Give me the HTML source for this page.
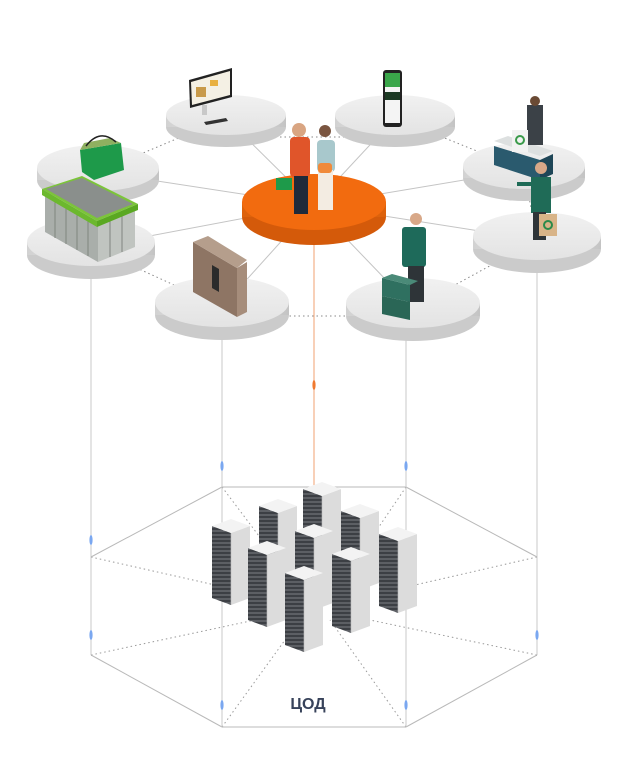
<!DOCTYPE html>
<html><head><meta charset="utf-8"><style>
html,body{margin:0;padding:0;background:#fff;width:630px;height:769px;overflow:hidden}
svg{display:block}
</style></head><body>
<svg width="630" height="769" viewBox="0 0 630 769" xmlns="http://www.w3.org/2000/svg">
<defs>
<linearGradient id="dtop" x1="0" y1="0" x2="0" y2="1"><stop offset="0" stop-color="#f1f1f1"/><stop offset="1" stop-color="#e3e3e3"/></linearGradient>
<linearGradient id="dside" x1="0" y1="0" x2="1" y2="0"><stop offset="0" stop-color="#d2d2d2"/><stop offset="0.5" stop-color="#e0e0e0"/><stop offset="1" stop-color="#c4c4c4"/></linearGradient>
<pattern id="rack" width="6" height="4" patternUnits="userSpaceOnUse"><rect width="6" height="4" fill="#3c3f44"/><rect y="2.6" width="6" height="0.8" fill="#8c8f95"/></pattern>
<g id="srv">
<polygon points="0,6 19,13 19,85 0,78" fill="url(#rack)"/>
<polygon points="19,13 38,6 38,78 19,85" fill="#dcdcdc"/>
<polygon points="0,6 19,-1 38,6 19,13" fill="#f3f3f3"/>
<line x1="19" y1="13" x2="19" y2="85" stroke="#bbb" stroke-width="0.6"/>
</g>
</defs>

<!-- bottom hexagon -->
<g stroke="#b9b9b9" stroke-width="1" fill="none">
<line x1="222" y1="487" x2="406" y2="487"/>
<line x1="222" y1="487" x2="91" y2="557"/>
<line x1="406" y1="487" x2="537" y2="557"/>
<line x1="91" y1="655" x2="222" y2="727"/>
<line x1="537" y1="655" x2="406" y2="727"/>
<line x1="222" y1="727" x2="406" y2="727" stroke="#ddd" stroke-width="2"/>
</g>
<g stroke="#999" stroke-width="1" stroke-dasharray="1.5,3" fill="none">
<line x1="222" y1="487" x2="262" y2="540"/>
<line x1="406" y1="487" x2="370" y2="540"/>
<line x1="91" y1="557" x2="215" y2="585"/>
<line x1="537" y1="557" x2="415" y2="585"/>
<line x1="91" y1="655" x2="255" y2="620"/>
<line x1="537" y1="655" x2="370" y2="620"/>
<line x1="222" y1="727" x2="285" y2="640"/>
<line x1="406" y1="727" x2="330" y2="620"/>
</g>

<!-- vertical lines -->
<g stroke="#c8c8c8" stroke-width="1">
<line x1="91" y1="275" x2="91" y2="655"/>
<line x1="222" y1="335" x2="222" y2="727"/>
<line x1="406" y1="335" x2="406" y2="727"/>
<line x1="537" y1="270" x2="537" y2="655"/>
</g>
<line x1="314" y1="232" x2="314" y2="530" stroke="#f0a070" stroke-width="1"/>
<g fill="#7aa7f0">
<ellipse cx="222" cy="466" rx="1.6" ry="5"/><ellipse cx="406" cy="466" rx="1.6" ry="5"/>
<ellipse cx="91" cy="540" rx="1.6" ry="5"/><ellipse cx="91" cy="635" rx="1.6" ry="5"/>
<ellipse cx="537" cy="635" rx="1.6" ry="5"/>
<ellipse cx="222" cy="705" rx="1.6" ry="5"/><ellipse cx="406" cy="705" rx="1.6" ry="5"/>
</g>
<ellipse cx="314" cy="385" rx="1.6" ry="5" fill="#f07a30"/>

<!-- servers -->
<use href="#srv" x="303" y="483"/>
<use href="#srv" x="259" y="500"/>
<use href="#srv" x="341" y="505"/>
<use href="#srv" x="212" y="520"/>
<use href="#srv" x="295" y="525"/>
<use href="#srv" x="379" y="528"/>
<use href="#srv" x="248" y="542"/>
<use href="#srv" x="332" y="548"/>
<use href="#srv" x="285" y="567"/>

<text x="308" y="709" text-anchor="middle" font-family="Liberation Sans, sans-serif" font-weight="bold" font-size="16" fill="#37425a">ЦОД</text>

<!-- connections top -->
<g stroke="#c4c4c4" stroke-width="1">
<line x1="314" y1="205" x2="226" y2="118"/>
<line x1="314" y1="205" x2="395" y2="118"/>
<line x1="314" y1="205" x2="98" y2="172"/>
<line x1="314" y1="205" x2="524" y2="170"/>
<line x1="314" y1="205" x2="91" y2="247"/>
<line x1="314" y1="205" x2="537" y2="240"/>
<line x1="314" y1="205" x2="222" y2="307"/>
<line x1="314" y1="205" x2="413" y2="308"/>
</g>
<g stroke="#888" stroke-width="1" stroke-dasharray="1.5,3">
<line x1="226" y1="137" x2="395" y2="137"/>
<line x1="98" y1="172" x2="226" y2="118"/>
<line x1="395" y1="118" x2="524" y2="170"/>
<line x1="91" y1="247" x2="222" y2="307"/>
<line x1="222" y1="316" x2="413" y2="316"/>
<line x1="413" y1="308" x2="537" y2="240"/>
<line x1="524" y1="170" x2="537" y2="240"/>
</g>

<!-- disks -->
<g>
<g transform="translate(226,115)"><ellipse cy="12" rx="60" ry="20" fill="#cbcbcb"/><rect x="-60" width="120" height="12" fill="url(#dside)"/><ellipse rx="60" ry="20" fill="url(#dtop)"/></g>
<g transform="translate(395,115)"><ellipse cy="12" rx="60" ry="20" fill="#cbcbcb"/><rect x="-60" width="120" height="12" fill="url(#dside)"/><ellipse rx="60" ry="20" fill="url(#dtop)"/></g>
<g transform="translate(98,168)"><ellipse cy="12" rx="61" ry="23" fill="#cbcbcb"/><rect x="-61" width="122" height="12" fill="url(#dside)"/><ellipse rx="61" ry="23" fill="url(#dtop)"/></g>
<g transform="translate(524,166)"><ellipse cy="12" rx="61" ry="23" fill="#cbcbcb"/><rect x="-61" width="122" height="12" fill="url(#dside)"/><ellipse rx="61" ry="23" fill="url(#dtop)"/></g>
<g transform="translate(91,242)"><ellipse cy="13" rx="64" ry="24" fill="#cbcbcb"/><rect x="-64" width="128" height="13" fill="url(#dside)"/><ellipse rx="64" ry="24" fill="url(#dtop)"/></g>
<g transform="translate(537,236)"><ellipse cy="13" rx="64" ry="24" fill="#cbcbcb"/><rect x="-64" width="128" height="13" fill="url(#dside)"/><ellipse rx="64" ry="24" fill="url(#dtop)"/></g>
<g transform="translate(222,302)"><ellipse cy="13" rx="67" ry="25" fill="#cbcbcb"/><rect x="-67" width="134" height="13" fill="url(#dside)"/><ellipse rx="67" ry="25" fill="url(#dtop)"/></g>
<g transform="translate(413,303)"><ellipse cy="13" rx="67" ry="25" fill="#cbcbcb"/><rect x="-67" width="134" height="13" fill="url(#dside)"/><ellipse rx="67" ry="25" fill="url(#dtop)"/></g>
<g transform="translate(314,202)"><ellipse cy="15" rx="72" ry="28" fill="#d45a0a"/><rect x="-72" width="144" height="15" fill="#dd620c"/><ellipse rx="72" ry="28" fill="#f26b0f"/></g>
</g>

<!-- monitor -->
<rect x="202" y="105" width="5" height="10" fill="#c8c8c8"/>
<polygon points="189,80 232,68 232,97 190,108" fill="#222"/>
<polygon points="191,82 230,71 230,95 192,105" fill="#f4f0e4"/>
<rect x="196" y="87" width="10" height="10" fill="#c89a4a"/>
<rect x="210" y="80" width="8" height="6" fill="#e8b040"/>
<polygon points="204,122 226,118 228,121 206,125" fill="#333"/>
<!-- phone -->
<rect x="383" y="70" width="19" height="57" rx="3" fill="#222"/>
<rect x="385" y="73" width="15" height="50" fill="#f4f4f4"/>
<rect x="385" y="73" width="15" height="14" fill="#3aa64a"/>
<rect x="385" y="92" width="15" height="8" fill="#1c3a24"/>
<!-- basket -->
<polygon points="80,150 121,143 124,170 94,180 82,172" fill="#1e9a4a"/>
<polygon points="80,150 121,143 110,138 84,143" fill="#8fb060"/>
<path d="M86,146 Q100,128 116,142" stroke="#222" stroke-width="1.5" fill="none"/>
<!-- kiosk -->
<polygon points="45,196 98,226 98,262 45,232" fill="#a9aeaa"/>
<polygon points="98,226 135,211 135,247 98,262" fill="#c0c4c0"/>
<g stroke="#80857f" stroke-width="1"><line x1="55" y1="202" x2="55" y2="238"/><line x1="66" y1="208" x2="66" y2="244"/><line x1="77" y1="214" x2="77" y2="250"/><line x1="88" y1="220" x2="88" y2="256"/><line x1="110" y1="221" x2="110" y2="257"/><line x1="122" y1="216" x2="122" y2="252"/></g>
<polygon points="42,189 82,176 138,204 97,221" fill="#7cc43a"/>
<polygon points="46,189 82,178 133,204 97,218" fill="#8a8f8c"/>
<polygon points="42,189 97,221 97,227 42,195" fill="#6cb82e"/>
<polygon points="97,221 138,204 138,210 97,227" fill="#5aa822"/>
<!-- locker -->
<polygon points="193,242 237,268 237,317 193,292" fill="#8e7564"/>
<polygon points="237,268 247,262 247,312 237,317" fill="#a68d7b"/>
<polygon points="193,242 208,236 247,260 237,268" fill="#b59e8c"/>
<polygon points="212,265 219,269 219,292 212,288" fill="#2b2b2b"/>
<!-- cashier counter & woman -->
<polygon points="494,146 540,160 540,180 494,165" fill="#2a5a6e" transform="translate(0,0)"/>
<polygon points="540,160 553,154 553,174 540,180" fill="#1e4657"/>
<polygon points="494,141 508,136 553,151 540,156" fill="#dde0e0"/>
<rect x="527" y="105" width="16" height="40" fill="#3b4147"/>
<circle cx="535" cy="101" r="5" fill="#6a4a34"/>
<rect x="512" y="130" width="16" height="22" fill="#f2f2f2"/>
<circle cx="520" cy="140" r="4" fill="none" stroke="#3a9a4a" stroke-width="2"/>
<!-- man right -->
<rect x="531" y="177" width="20" height="36" fill="#1f6b57"/>
<rect x="533" y="212" width="13" height="28" fill="#2e3438"/>
<circle cx="541" cy="168" r="6" fill="#d8a888"/>
<rect x="517" y="182" width="16" height="4" fill="#1f6b57"/>
<rect x="539" y="214" width="18" height="22" fill="#d8b488"/>
<circle cx="548" cy="225" r="4" fill="none" stroke="#2a8a4a" stroke-width="2"/>
<!-- center people -->
<rect x="290" y="137" width="20" height="40" rx="4" fill="#e0552a"/>
<rect x="294" y="176" width="14" height="38" fill="#1f2a3a"/>
<circle cx="299" cy="130" r="7" fill="#d9a582"/>
<rect x="276" y="178" width="16" height="12" fill="#1e9a4a"/>
<rect x="317" y="140" width="18" height="32" rx="4" fill="#a8c8cc"/>
<rect x="318" y="170" width="15" height="40" fill="#f3ece2"/>
<circle cx="325" cy="131" r="6" fill="#7a5540"/>
<rect x="318" y="163" width="14" height="10" rx="3" fill="#f08a3a"/>
<!-- courier -->
<rect x="402" y="227" width="24" height="40" rx="3" fill="#1e6a5a"/>
<rect x="408" y="266" width="16" height="36" fill="#2e3438"/>
<circle cx="416" cy="219" r="6" fill="#d8a888"/>
<polygon points="382,278 410,285 410,302 382,296" fill="#2f7060"/>
<polygon points="382,296 410,302 410,320 382,314" fill="#2a6656"/>
<polygon points="382,278 392,274 418,281 410,285" fill="#4a8a78"/>
</svg>
</body></html>
